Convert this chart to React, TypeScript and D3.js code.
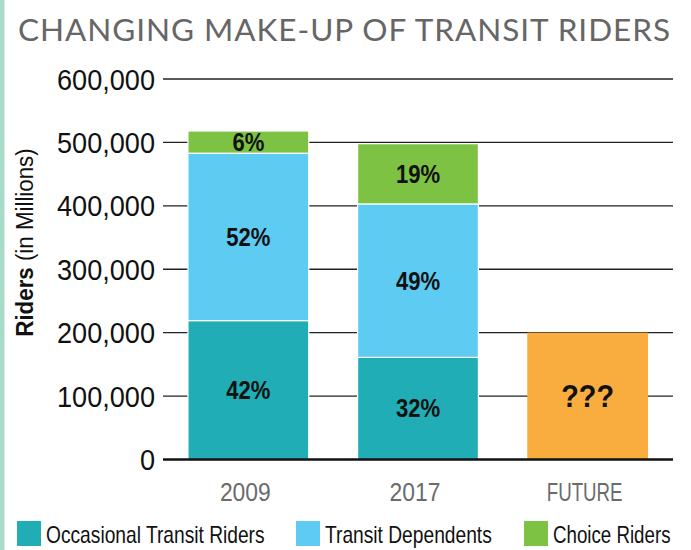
import React from "react";
import * as d3 from "d3";

const categories = ["2009", "2017", "FUTURE"];
const seriesNames = ["Occasional Transit Riders", "Transit Dependents", "Choice Riders"];
const occasional = [219000, 161000, 0];
const dependents = [264000, 242000, 0];
const choice = [35000, 95000, 0];
const future = [0, 0, 200000];
const pctOccasional = ["42%", "32%", ""];
const pctDependents = ["52%", "49%", ""];
const pctChoice = ["6%", "19%", ""];
const futureLabel = "???";
const yTicks = [0, 100000, 200000, 300000, 400000, 500000, 600000];
const titleText = "CHANGING MAKE-UP OF TRANSIT RIDERS";

// styling
const colors = ["#20adb5", "#5ecbf3", "#7dc242"];
const futureColor = "#f9ad3f";
const sans = "'Liberation Sans', Arial, sans-serif";
const xLabelScales = [0.88, 0.88, 0.72];
const legendX = [17, 296, 524];
const legendScales = [0.8, 0.8, 0.78];

export default function App() {
  const W = 691, H = 550;
  const x = d3.scaleBand<string>().domain(categories).range([163, 673]).paddingInner(0.288).paddingOuter(0.147);
  const y = d3.scaleLinear().domain([0, 600000]).range([459.5, 79]);
  const fmt = d3.format(",");

  const rows = categories.map((c, i) => ({ cat: c, occasional: occasional[i], dependents: dependents[i], choice: choice[i] }));
  const stack = d3.stack<any>().keys(["occasional", "dependents", "choice"])(rows);
  const pcts = [pctOccasional, pctDependents, pctChoice];
  const cx = (c: string) => (x(c) as number) + x.bandwidth() / 2;

  return (
    <svg width={W} height={H} style={{ position: "absolute", left: 0, top: 0, background: "#fff" }}>
      <rect x={0} y={0} width={4.5} height={H} fill="#a8dcc9" />
      <text x={18} y={41} fontFamily="Lato, 'Open Sans', sans-serif" fontSize={31.5} fill="#666"
        textLength={652} lengthAdjust="spacing">
        {titleText}
      </text>
      {yTicks.filter((t) => t > 0).map((t) => (
        <line key={t} x1={163} x2={673} y1={y(t)} y2={y(t)} stroke="#222" strokeWidth={1.4} />
      ))}
      {yTicks.map((t) => (
        <text key={t} transform={`translate(155,${y(t) + 10.5}) scale(0.935,1)`} textAnchor="end" fontFamily={sans}
          fontSize={29} fill="#111">
          {fmt(t)}
        </text>
      ))}
      {stack.map((s, si) =>
        s.map((d, i) =>
          d[1] - d[0] > 0 ? (
            <rect key={si + "-" + i} x={x(categories[i])} width={x.bandwidth()} y={y(d[1])} height={y(d[0]) - y(d[1])}
              fill={colors[si]} stroke="#fff" strokeWidth={1.2} />
          ) : null
        )
      )}
      {categories.map((c, i) =>
        future[i] > 0 ? (
          <rect key={"f" + i} x={x(c)} width={x.bandwidth()} y={y(future[i])} height={y(0) - y(future[i])} fill={futureColor} />
        ) : null
      )}
      {stack.map((s, si) =>
        s.map((d, i) =>
          pcts[si][i] ? (
            <text key={"l" + si + i}
              transform={`translate(${cx(categories[i])},${(y(d[0]) + y(d[1])) / 2 + 9}) scale(0.85,1)`}
              textAnchor="middle" fontFamily={sans} fontWeight="bold" fontSize={26} fill="#111">
              {pcts[si][i]}
            </text>
          ) : null
        )
      )}
      {categories.map((c, i) =>
        future[i] > 0 ? (
          <text key={"fl" + i} transform={`translate(${cx(c)},${(y(0) + y(future[i])) / 2 + 11}) scale(0.9,1)`}
            textAnchor="middle" fontFamily={sans} fontWeight="bold" fontSize={32} fill="#111">
            {futureLabel}
          </text>
        ) : null
      )}
      <line x1={163} x2={673} y1={y(0)} y2={y(0)} stroke="#111" strokeWidth={2.5} />
      {categories.map((c, i) => (
        <text key={"x" + c} transform={`translate(${cx(c) - 3},501) scale(${xLabelScales[i]},1)`} textAnchor="middle"
          fontFamily={sans} fontSize={26} fill="#6b6b6b">
          {c}
        </text>
      ))}
      <text transform={`translate(33, 242.5) rotate(-90) scale(0.93,1)`} textAnchor="middle" fontFamily={sans}
        fontSize={24} fill="#111">
        <tspan fontWeight="bold">Riders</tspan>
        <tspan> (in Millions)</tspan>
      </text>
      {seriesNames.map((n, i) => (
        <g key={n}>
          <rect x={legendX[i]} y={521} width={24} height={25} fill={colors[i]} />
          <text transform={`translate(${legendX[i] + 29},543) scale(${legendScales[i]},1)`} fontFamily={sans}
            fontSize={24} fill="#111">{n}</text>
        </g>
      ))}
    </svg>
  );
}
